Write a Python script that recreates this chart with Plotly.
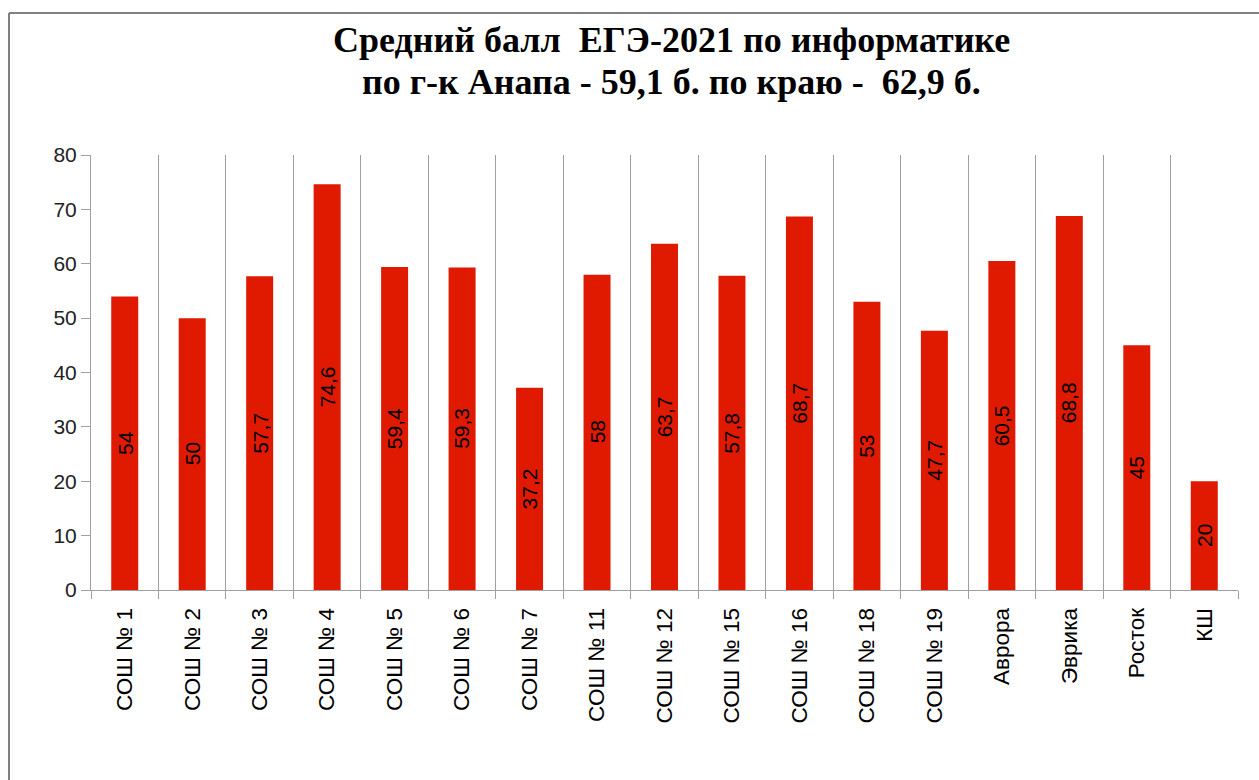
import plotly.graph_objects as go

categories = ["СОШ № 1", "СОШ № 2", "СОШ № 3", "СОШ № 4", "СОШ № 5", "СОШ № 6",
              "СОШ № 7", "СОШ № 11", "СОШ № 12", "СОШ № 15", "СОШ № 16", "СОШ № 18",
              "СОШ № 19", "Аврора", "Эврика", "Росток", "КШ"]
values = [54, 50, 57.7, 74.6, 59.4, 59.3, 37.2, 58, 63.7, 57.8, 68.7, 53, 47.7, 60.5, 68.8, 45, 20]
y_ticks = [0, 10, 20, 30, 40, 50, 60, 70, 80]
title_lines = ["Средний балл  ЕГЭ-2021 по информатике", "по г-к Анапа - 59,1 б. по краю -  62,9 б."]

labels = [f"{v:g}".replace(".", ",") for v in values]

W, H = 1259, 780
L, R, T, B = 91, 21, 155, 190

fig = go.Figure(go.Bar(
    x=categories, y=values,
    marker=dict(color="#E01A00", line=dict(width=0)),
    hoverinfo="x+y",
))

grid = "#A0A0A0"
pw, ph = W - L - R, H - T - B
def px2x(px): return (px - L) / pw
def py2y(py): return (H - B - py) / ph

annotations = []
for c, v, t in zip(categories, values, labels):
    annotations.append(dict(
        x=c, y=v / 2, xref="x", yref="y", text=t, showarrow=False, textangle=-90,
        xanchor="center", yanchor="middle",
        font=dict(family="Liberation Sans, Arial", size=21, color="black"),
    ))
for line, base in zip(title_lines, [53, 95]):
    annotations.append(dict(
        x=px2x(671), y=py2y(base + 9), xref="paper", yref="paper", text="<b>" + line + "</b>",
        showarrow=False, xanchor="center", yanchor="bottom",
        font=dict(family="Liberation Serif, Times New Roman, serif", size=36, color="black"),
    ))

fig.update_layout(
    width=W, height=H,
    margin=dict(l=L, r=R, t=T, b=B),
    paper_bgcolor="white", plot_bgcolor="white",
    bargap=0.6, showlegend=False,
    annotations=annotations,
    xaxis=dict(
        type="category", tickson="boundaries", showgrid=True, gridcolor=grid, gridwidth=1,
        showline=True, linecolor=grid, linewidth=1,
        ticks="outside", ticklen=8, tickcolor=grid, ticklabelstandoff=8,
        tickangle=-90, tickfont=dict(family="Liberation Sans, Arial", size=22.5, color="black"),
        range=[-0.5, len(categories) - 0.5],
    ),
    yaxis=dict(
        range=[0, 80], tickvals=y_ticks, showgrid=False, zeroline=False,
        showline=True, linecolor=grid, linewidth=1,
        ticks="outside", ticklen=9, tickcolor=grid,
        tickfont=dict(family="Liberation Sans, Arial", size=21, color="#222222"),
    ),
    shapes=[
        dict(type="line", xref="paper", yref="paper", x0=px2x(9), x1=px2x(W + 5), y0=py2y(13), y1=py2y(13),
             line=dict(color="#808080", width=2)),
        dict(type="line", xref="paper", yref="paper", x0=px2x(9), x1=px2x(9), y0=py2y(13), y1=py2y(H + 5),
             line=dict(color="#808080", width=2)),
    ],
)

fig.write_html("out.html", config={"displayModeBar": False})
with open("out.html", encoding="utf-8") as f:
    html = f.read()
html = html.replace("<head>", "<head><style>html,body{margin:0;padding:0;overflow:hidden;}</style>", 1)
with open("out.html", "w", encoding="utf-8") as f:
    f.write(html)
